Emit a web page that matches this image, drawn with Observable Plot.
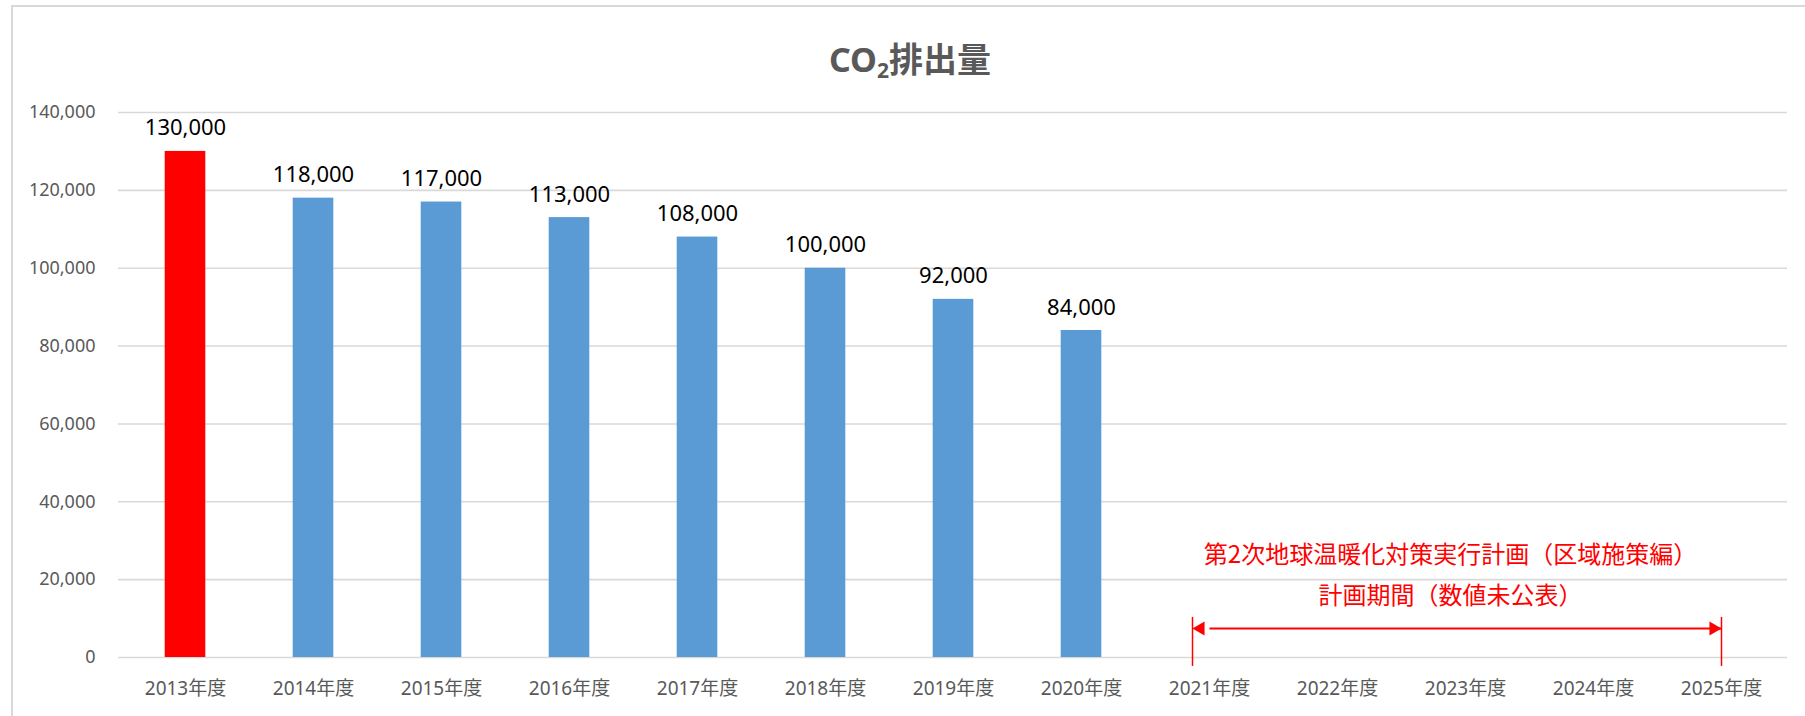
<!DOCTYPE html>
<html>
<head>
<meta charset="utf-8">
<script src="https://cdn.jsdelivr.net/npm/d3@7"></script>
<script src="https://cdn.jsdelivr.net/npm/@observablehq/plot@0.6"></script>
<style>
  html, body { margin: 0; padding: 0; background: #fff; }
  #wrap { position: relative; width: 1805px; height: 716px; overflow: hidden; }
  #frame { position: absolute; left: 11px; top: 5px; width: 1900px; height: 800px;
           border-left: 2px solid #d9d9d9; border-top: 2px solid #d9d9d9; box-sizing: border-box; }
  #title { position: absolute; left: 910px; top: 42px; transform: translateX(-50%);
           font-family: "Noto Sans", "Noto Sans CJK JP", sans-serif; font-weight: bold;
           font-size: 34px; line-height: 1; color: #595959; white-space: nowrap; margin: 0; }
  #title .sub { font-size: 0.62em; position: relative; top: 0.3em; }
  #chart { position: absolute; left: 0; top: 0; }
</style>
</head>
<body>
<div id="wrap">
  <div id="frame"></div>
  <div id="chart"></div>
  <h1 id="title">CO<span class="sub">2</span>排出量</h1>
</div>
<script>
// ---- data ----
const years = ["2013年度","2014年度","2015年度","2016年度","2017年度","2018年度","2019年度",
               "2020年度","2021年度","2022年度","2023年度","2024年度","2025年度"];
const emissions = [130000, 118000, 117000, 113000, 108000, 100000, 92000, 84000,
                   null, null, null, null, null];
const baseYear = "2013年度";
const baseColor = "#ff0000";
const barColor = "#5b9bd5";
const yTicks = [0, 20000, 40000, 60000, 80000, 100000, 120000, 140000];
const noteLines = ["第2次地球温暖化対策実行計画（区域施策編）", "計画期間（数値未公表）"];
const planStart = "2021年度";
const planEnd = "2025年度";
const noteAnchor = "2023年度";
const noteColor = "#ff0000";

// ---- build table ----
const table = years.map((year, i) => ({
  year, value: emissions[i], color: year === baseYear ? baseColor : barColor
})).filter(d => d.value != null);

const fmt = d3.format(",");
const latin = "'Noto Sans', 'Noto Sans CJK JP', sans-serif";
const cjk = "'Noto Sans CJK JP', sans-serif";

// annotation anchor positions (data units)
const noteY = [26200, 15700];
const arrowY = 7450;

const chart = Plot.plot({
  width: 1805,
  height: 716,
  marginLeft: 118,
  marginRight: 18,
  marginTop: 112,
  marginBottom: 59,
  style: { background: "transparent", color: "#595959", fontFamily: latin, overflow: "visible" },
  x: { type: "band", domain: years, padding: 0, label: null },
  y: { domain: [0, 140000], label: null },
  color: { type: "identity" },
  marks: [
    Plot.ruleY(yTicks, { stroke: "#d9d9d9", strokeWidth: 1.6 }),
    Plot.axisY({ ticks: yTicks, tickSize: 0, tickPadding: 23, tickFormat: fmt,
                 fontSize: 18, label: null, fill: "#595959" }),
    Plot.axisX({ tickSize: 0, tickPadding: 24, fontSize: 19, label: null,
                 fill: "#595959", fontFamily: latin }),
    Plot.barY(table, { x: "year", y: "value", fill: "color", insetLeft: 43.7, insetRight: 43.7 }),
    Plot.text(table, { x: "year", y: "value", text: d => fmt(d.value), lineAnchor: "bottom",
                       dy: -16, fontSize: 22, fill: "#000" }),
    // annotation text
    Plot.text([noteLines[0]], { x: () => noteAnchor, y: () => noteY[0], text: d => d, dx: -15,
                                fontSize: 24, fill: noteColor, fontFamily: cjk, lineAnchor: "middle" }),
    Plot.text([noteLines[1]], { x: () => noteAnchor, y: () => noteY[1], text: d => d, dx: -15,
                                fontSize: 24, fill: noteColor, fontFamily: cjk, lineAnchor: "middle" }),
    // arrow
    Plot.ruleX([planStart], { x: d => d, y1: -2300, y2: 10300, stroke: noteColor, strokeWidth: 1.5, dx: -17 }),
    Plot.ruleX([planEnd], { x: d => d, y1: -2300, y2: 10300, stroke: noteColor, strokeWidth: 1.5 }),
    Plot.link([{ a: planStart, b: planEnd }], { x1: "a", x2: "b", y1: () => arrowY, y2: () => arrowY,
                stroke: noteColor, strokeWidth: 1.8 }),
    Plot.dot([planStart], { x: d => d, y: () => arrowY, symbol: "triangle", r: 5.2, rotate: -90,
                            fill: noteColor, stroke: "none", dx: -9 }),
    Plot.dot([planEnd], { x: d => d, y: () => arrowY, symbol: "triangle", r: 5.2, rotate: 90,
                          fill: noteColor, stroke: "none", dx: -8 })
  ]
});
document.getElementById("chart").appendChild(chart);
</script>
</body>
</html>
